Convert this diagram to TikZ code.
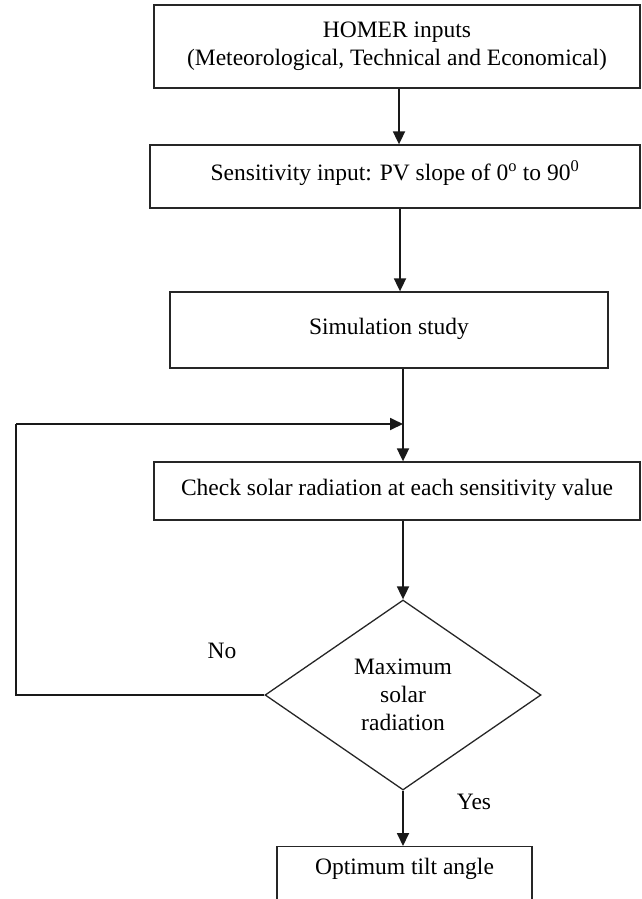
\documentclass[tikz,border=0pt]{standalone}
\usepackage{fontspec}
\setmainfont{Liberation Serif}
\usetikzlibrary{shapes.geometric,arrows.meta}
\begin{document}
\begin{tikzpicture}[x=1pt,y=-1pt,
  every node/.style={font=\fontsize{23.5}{28}\selectfont, text=black},
  boxnode/.style={draw=black!85, line width=1.3pt, rectangle, inner sep=0pt, align=center},
  decnode/.style={draw=black!85, line width=1.3pt, shape=diamond, inner sep=0pt, align=center, minimum width=276pt, minimum height=190pt},
  arr/.style={draw=black!90, line width=1.8pt, -{Triangle[length=13pt,width=12pt]}},
  plain/.style={draw=black!90, line width=1.5pt}]
\useasboundingbox (0,0) rectangle (642,899);
\clip (0,0) rectangle (642,899);
\node[boxnode, minimum width=486pt, minimum height=83pt] (b1) at (397,46.5) {HOMER inputs\\(Meteorological, Technical and Economical)};
\node[boxnode, minimum width=490pt, minimum height=63pt, text depth=12pt] (b2) at (395,176.5) {Sensitivity input: PV slope of 0\textsuperscript{o} to 90\textsuperscript{0}};
\node[boxnode, minimum width=438pt, minimum height=76pt, text depth=8pt] (b3) at (389,330) {Simulation study};
\node[boxnode, minimum width=486pt, minimum height=58pt, text depth=8pt] (b4) at (397,491) {Check solar radiation at each sensitivity value};
\node[decnode] (d) at (403,695) {Maximum\\solar\\radiation};
\node[boxnode, minimum width=255pt, minimum height=100pt, anchor=north] (b5) at (404.5,846) {};
\node (b5t) at (404.5,869) {Optimum tilt angle};
\node (no) at (222,651) {No};
\node (yes) at (474,802) {Yes};
\coordinate (lb) at (16,695);
\coordinate (lt) at (16,424);
\coordinate (lj) at (403,424);
\draw[arr] ([xshift=2pt]b1.south) -- ([xshift=4pt]b2.north);
\draw[arr] ([xshift=5pt]b2.south) -- ([xshift=11pt]b3.north);
\draw[arr] ([xshift=14pt]b3.south) -- ([xshift=6pt]b4.north);
\draw[arr] ([xshift=6pt]b4.south) -- (d.north);
\draw[arr] (d.south) -- (d.south |- b5.north);
\draw[plain] (d.west) -- (lb) -- (lt);
\draw[arr] (lt) -- (lj);
\end{tikzpicture}
\end{document}
